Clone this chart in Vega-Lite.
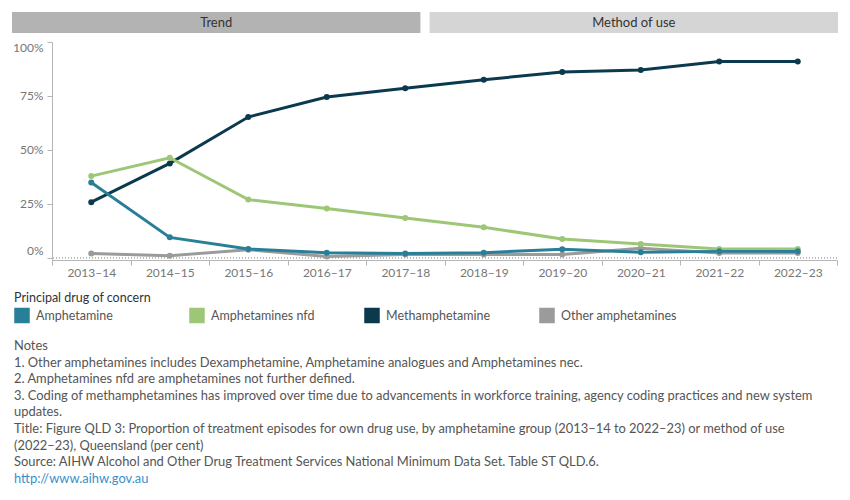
{
  "$schema": "https://vega.github.io/schema/vega-lite/v6.json",
  "padding": {"left": 12, "top": 12, "right": 10, "bottom": 5},
  "config": {
    "view": {"stroke": null},
    "font": "Lato"
  },
  "datasets": {
    "tabs": [
      {"tab": "Trend"},
      {"tab": "Method of use"}
    ],
    "trend": [
      {"year": "2013–14", "drug": "Other amphetamines", "pct": 1.9},
      {"year": "2014–15", "drug": "Other amphetamines", "pct": 0.9},
      {"year": "2015–16", "drug": "Other amphetamines", "pct": 3.7},
      {"year": "2016–17", "drug": "Other amphetamines", "pct": 0.5},
      {"year": "2017–18", "drug": "Other amphetamines", "pct": 1.5},
      {"year": "2018–19", "drug": "Other amphetamines", "pct": 1.4},
      {"year": "2019–20", "drug": "Other amphetamines", "pct": 1.4},
      {"year": "2020–21", "drug": "Other amphetamines", "pct": 4.4},
      {"year": "2021–22", "drug": "Other amphetamines", "pct": 2.1},
      {"year": "2022–23", "drug": "Other amphetamines", "pct": 2.1},
      {"year": "2013–14", "drug": "Methamphetamine", "pct": 25.7},
      {"year": "2014–15", "drug": "Methamphetamine", "pct": 43.7},
      {"year": "2015–16", "drug": "Methamphetamine", "pct": 65.2},
      {"year": "2016–17", "drug": "Methamphetamine", "pct": 74.5},
      {"year": "2017–18", "drug": "Methamphetamine", "pct": 78.5},
      {"year": "2018–19", "drug": "Methamphetamine", "pct": 82.5},
      {"year": "2019–20", "drug": "Methamphetamine", "pct": 86.1},
      {"year": "2020–21", "drug": "Methamphetamine", "pct": 87.0},
      {"year": "2021–22", "drug": "Methamphetamine", "pct": 91.0},
      {"year": "2022–23", "drug": "Methamphetamine", "pct": 90.9},
      {"year": "2013–14", "drug": "Amphetamines nfd", "pct": 37.8},
      {"year": "2014–15", "drug": "Amphetamines nfd", "pct": 46.3},
      {"year": "2015–16", "drug": "Amphetamines nfd", "pct": 26.9},
      {"year": "2016–17", "drug": "Amphetamines nfd", "pct": 22.8},
      {"year": "2017–18", "drug": "Amphetamines nfd", "pct": 18.4},
      {"year": "2018–19", "drug": "Amphetamines nfd", "pct": 14.1},
      {"year": "2019–20", "drug": "Amphetamines nfd", "pct": 8.6},
      {"year": "2020–21", "drug": "Amphetamines nfd", "pct": 6.3},
      {"year": "2021–22", "drug": "Amphetamines nfd", "pct": 4.0},
      {"year": "2022–23", "drug": "Amphetamines nfd", "pct": 4.0},
      {"year": "2013–14", "drug": "Amphetamine", "pct": 34.8},
      {"year": "2014–15", "drug": "Amphetamine", "pct": 9.4},
      {"year": "2015–16", "drug": "Amphetamine", "pct": 4.0},
      {"year": "2016–17", "drug": "Amphetamine", "pct": 2.3},
      {"year": "2017–18", "drug": "Amphetamine", "pct": 1.9},
      {"year": "2018–19", "drug": "Amphetamine", "pct": 2.3},
      {"year": "2019–20", "drug": "Amphetamine", "pct": 3.9},
      {"year": "2020–21", "drug": "Amphetamine", "pct": 2.5},
      {"year": "2021–22", "drug": "Amphetamine", "pct": 2.9},
      {"year": "2022–23", "drug": "Amphetamine", "pct": 2.9}
    ]
  },
  "title": {
    "text": [
      "Notes",
      "1. Other amphetamines includes Dexamphetamine, Amphetamine analogues and Amphetamines nec.",
      "2. Amphetamines nfd are amphetamines not further defined.",
      "3. Coding of methamphetamines has improved over time due to advancements in workforce training, agency coding practices and new system",
      "updates.",
      "Title: Figure QLD 3: Proportion of treatment episodes for own drug use, by amphetamine group (2013–14 to 2022–23) or method of use",
      "(2022–23), Queensland (per cent)",
      "Source: AIHW Alcohol and Other Drug Treatment Services National Minimum Data Set. Table ST QLD.6."
    ],
    "subtitle": "http://www.aihw.gov.au",
    "orient": "bottom",
    "anchor": "start",
    "frame": "bounds",
    "baseline": "top",
    "dx": 2,
    "offset": 14,
    "font": "Lato",
    "fontSize": 12.9,
    "fontWeight": "normal",
    "color": "#555555",
    "lineHeight": 16.6,
    "subtitleFont": "Lato",
    "subtitleFontSize": 12.9,
    "subtitleColor": "#3a8fc8",
    "subtitlePadding": 4
  },
  "columns": 1,
  "align": "none",
  "spacing": 8,
  "resolve": {"scale": {"color": "independent", "x": "independent"}},
  "concat": [
    {
      "width": 786,
      "height": 21,
      "data": {"name": "tabs"},
      "encoding": {
        "x": {
          "field": "tab",
          "type": "nominal",
          "sort": null,
          "scale": {"range": [-40, 786], "paddingInner": 0.022, "paddingOuter": 0},
          "axis": null
        }
      },
      "layer": [
        {
          "mark": {"type": "bar"},
          "encoding": {
            "color": {
              "field": "tab",
              "type": "nominal",
              "scale": {"domain": ["Trend", "Method of use"], "range": ["#b3b3b3", "#d5d5d5"]},
              "legend": null
            }
          }
        },
        {
          "mark": {"type": "text", "fontSize": 13, "color": "#333333"},
          "encoding": {"text": {"field": "tab"}}
        }
      ]
    },
    {
      "width": 785,
      "height": 218,
      "data": {"name": "trend"},
      "layer": [
        {
          "mark": {"type": "rule", "strokeDash": [1, 2], "color": "#bbbbbb", "strokeWidth": 1},
          "encoding": {"y": {"datum": 0, "type": "quantitative"}}
        },
        {
          "mark": {"type": "line", "strokeWidth": 3, "point": {"filled": true, "size": 36}},
          "encoding": {
            "x": {
              "field": "year",
              "type": "ordinal",
              "sort": null,
              "scale": {"type": "band", "paddingInner": 0, "paddingOuter": 0},
              "axis": {
                "title": null,
                "labelAngle": 0,
                "tickBand": "extent",
                "domainColor": "#b5b5b5",
                "tickColor": "#b5b5b5",
                "tickSize": 5,
                "labelColor": "#777777",
                "labelFontSize": 12,
                "labelPadding": 2
              }
            },
            "y": {
              "field": "pct",
              "type": "quantitative",
              "scale": {"domain": [-1.1, 100], "nice": false, "zero": false},
              "axis": {
                "title": null,
                "grid": false,
                "values": [0, 25, 50, 75, 100],
                "labelExpr": "datum.value + '%'",
                "labelFlush": 3,
                "domainColor": "#b5b5b5",
                "tickColor": "#b5b5b5",
                "tickSize": 5,
                "labelColor": "#777777",
                "labelFontSize": 12,
                "labelPadding": 4,
                "minExtent": 40
              }
            },
            "color": {
              "field": "drug",
              "type": "nominal",
              "scale": {
                "domain": ["Amphetamine", "Amphetamines nfd", "Methamphetamine", "Other amphetamines"],
                "range": ["#2a7f98", "#9dc777", "#0b3a4f", "#9b9b9b"]
              },
              "legend": {
                "orient": "none",
                "legendX": -38,
                "legendY": 250,
                "direction": "horizontal",
                "columns": 4,
                "gridAlign": "all",
                "columnPadding": 35,
                "title": "Principal drug of concern",
                "titleFontSize": 12.5,
                "titleFontWeight": "normal",
                "titleColor": "#333333",
                "titlePadding": 3,
                "labelFontSize": 12.5,
                "labelColor": "#555555",
                "labelOffset": 6,
                "symbolType": "square",
                "symbolSize": 196,
                "encode": {
                  "symbols": {
                    "update": {
                      "fill": {"scale": "color", "field": "value"},
                      "stroke": {"value": "transparent"},
                      "opacity": {"value": 1}
                    }
                  }
                }
              }
            }
          }
        }
      ]
    }
  ]
}
